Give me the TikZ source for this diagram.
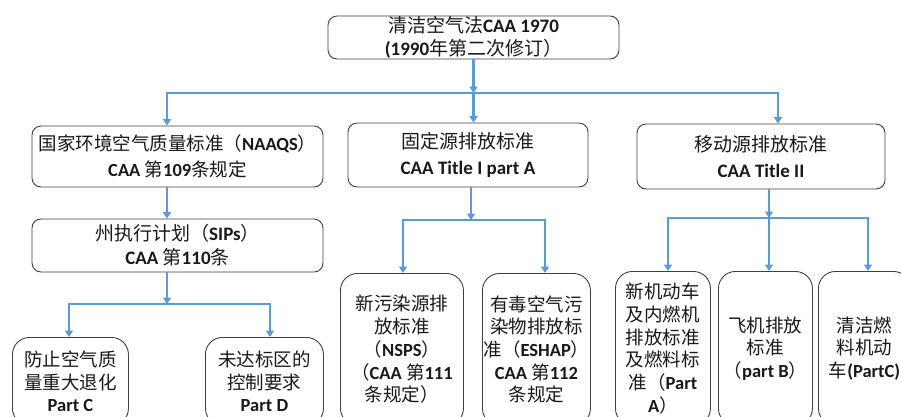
\documentclass[tikz,border=0pt]{standalone}
\usepackage{fontspec}
\setmainfont{Carlito}
\newfontfamily\cjkf{Noto Sans CJK SC}
\newcommand{\zhs}[1]{{\cjkf #1}}
\newcommand{\ens}[1]{{\bfseries #1}}
\usetikzlibrary{arrows.meta}
\definecolor{conn}{HTML}{5B9BD5}
\definecolor{frame}{HTML}{404040}
\begin{document}
\begin{tikzpicture}[x=1pt,y=-1pt,
  box/.style={draw=frame, line width=0.9pt, rounded corners=9pt, inner sep=0pt, align=center, text=black!90},
  lvl/.style={box, font=\fontsize{19}{25.5}\selectfont},
  leaf/.style={box, rounded corners=17pt, anchor=north west, font=\fontsize{18.5}{22.7}\selectfont},
  link/.style={draw=conn, line width=2.6pt},
  arr/.style={link, -{Triangle[width=8pt,length=6.5pt]}}]
\useasboundingbox (0,0) rectangle (901,416);
\clip (0,0) rectangle (901,416);
\fill[white] (0,0) rectangle (901,416);

% level 1
\node[lvl, minimum width=291pt, minimum height=43pt, font=\fontsize{19}{23}\selectfont] (top) at (473.5,37.5)
  {\zhs{清洁空气法}\ens{CAA 1970}\\\ens{(1990}\zhs{年第二次修订）}};

% level 2
\node[lvl, minimum width=291pt, minimum height=61pt, font=\fontsize{18.5}{25.5}\selectfont] (naaqs) at (177.5,156.5)
  {\zhs{国家环境空气质量标准（}\ens{NAAQS}\zhs{）}\\\ens{CAA }\zhs{第}\ens{109}\zhs{条规定}};
\node[lvl, minimum width=240pt, minimum height=64pt] (fixed) at (468,155)
  {\zhs{固定源排放标准}\\\ens{CAA Title I part A}};
\node[lvl, minimum width=248pt, minimum height=65pt] (mobile) at (761,156.5)
  {\zhs{移动源排放标准}\\\ens{CAA Title II}};

% level 3
\node[lvl, minimum width=291pt, minimum height=53pt, font=\fontsize{19}{24}\selectfont] (sips) at (177.5,245.5)
  {\zhs{州执行计划（}\ens{SIPs}\zhs{）}\\\ens{CAA }\zhs{第}\ens{110}\zhs{条}};

% leaves
\node[leaf, minimum width=116pt, minimum height=88pt] (partc) at (12,337)
  {\zhs{防止空气质}\\\zhs{量重大退化}\\\ens{Part C}};
\node[leaf, minimum width=118pt, minimum height=88pt] (partd) at (205,337)
  {\zhs{未达标区的}\\\zhs{控制要求}\\\ens{Part D}};
\node[leaf, minimum width=123pt, minimum height=152pt] (nsps) at (340,273)
  {\zhs{新污染源排}\\\zhs{放标准}\\\zhs{（}\ens{NSPS}\zhs{）}\\\zhs{（}\ens{CAA }\zhs{第}\ens{111}\\\zhs{条规定）}};
\node[leaf, minimum width=108pt, minimum height=152pt] (eshap) at (482,273)
  {\zhs{有毒空气污}\\\zhs{染物排放标}\\\zhs{准（}\ens{ESHAP}\zhs{）}\\\ens{CAA }\zhs{第}\ens{112}\\\zhs{条规定}};
\node[leaf, minimum width=95pt, minimum height=154pt] (parta) at (615,271)
  {\zhs{新机动车}\\\zhs{及内燃机}\\\zhs{排放标准}\\\zhs{及燃料标}\\\zhs{准（}\ens{Part}\\\ens{A}\zhs{）}};
\node[leaf, minimum width=94pt, minimum height=154pt] (partb) at (718,271)
  {\zhs{飞机排放}\\\zhs{标准}\\\zhs{（}\ens{part B}\zhs{）}};
\node[leaf, minimum width=92pt, minimum height=154pt] (partcc) at (818,271)
  {\zhs{清洁燃}\\\zhs{料机动}\\\zhs{车}\ens{(PartC)}};

% junctions
\coordinate (j0) at (473.5,93);
\coordinate (j0l) at (167,93);
\coordinate (j0r) at (778,93);
\coordinate (j1) at (167,304);
\coordinate (j1l) at (69,304);
\coordinate (j1r) at (270,304);
\coordinate (j2) at (471,220);
\coordinate (j2l) at (403,220);
\coordinate (j2r) at (545,220);
\coordinate (j3) at (769,218);
\coordinate (j3l) at (668,218);
\coordinate (j3r) at (868,218);

% connectors
\draw[arr] (top.south -| j0) -- (j0);
\draw[arr] (j0) -- (j0l) -- (j0l |- naaqs.north);
\draw[arr] (j0) -- (j0 |- fixed.north);
\draw[arr] (j0) -- (j0r) -- (j0r |- mobile.north);

\draw[arr] (naaqs.south -| j0l) -- (sips.north -| j0l);

\draw[arr] (sips.south -| j1) -- (j1);
\draw[arr] (j1) -- (j1l) -- (j1l |- partc.north);
\draw[arr] (j1) -- (j1r) -- (j1r |- partd.north);

\draw[arr] (fixed.south -| j2) -- (j2);
\draw[arr] (j2) -- (j2l) -- (j2l |- nsps.north);
\draw[arr] (j2) -- (j2r) -- (j2r |- eshap.north);

\draw[arr] (mobile.south -| j3) -- (j3);
\draw[arr] (j3) -- (j3l) -- (j3l |- parta.north);
\draw[arr] (j3) -- (j3 |- partb.north);
\draw[arr] (j3) -- (j3r) -- (j3r |- partcc.north);
\end{tikzpicture}
\end{document}
